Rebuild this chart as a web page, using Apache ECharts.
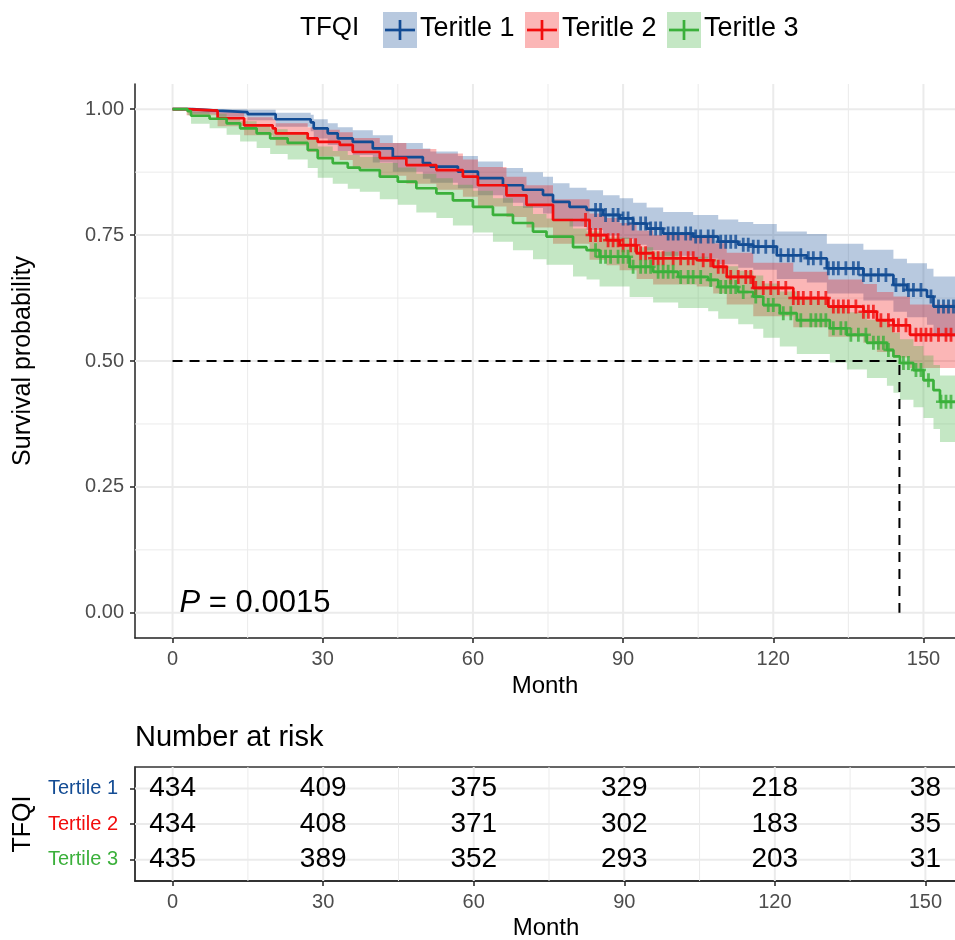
<!DOCTYPE html>
<html>
<head>
<meta charset="utf-8">
<title>TFQI survival</title>
<script src="https://cdn.jsdelivr.net/npm/echarts@6/dist/echarts.min.js"></script>
<style>
  html, body { margin: 0; padding: 0; background: #fff; }
  #chart { width: 955px; height: 940px; }
</style>
</head>
<body>
<div id="chart"></div>
<script>
// ---- data ----
const groupNames = ['Teritle 1', 'Teritle 2', 'Teritle 3'];
const riskNames = ['Tertile 1', 'Tertile 2', 'Tertile 3'];

const t1Time  = [0, 4, 9, 15, 20.6, 27.6, 28.2, 31, 33, 36, 40, 44, 50, 51.5, 57, 61, 66, 70, 74, 76, 79.3, 82.7, 86, 89.3, 92, 94.7, 98, 104, 109, 113, 116, 120.7, 126.7, 130.7, 138, 144, 146.7, 150.7, 152, 156.3];
const t1Surv  = [1, 0.997, 0.994, 0.99, 0.98, 0.974, 0.962, 0.952, 0.942, 0.935, 0.922, 0.905, 0.893, 0.886, 0.876, 0.863, 0.849, 0.84, 0.83, 0.816, 0.806, 0.8, 0.79, 0.783, 0.773, 0.763, 0.753, 0.747, 0.737, 0.731, 0.727, 0.71, 0.704, 0.684, 0.671, 0.651, 0.641, 0.628, 0.608, 0.608];
const t1Upper = [1, 1, 1, 0.999, 0.993, 0.989, 0.98, 0.972, 0.964, 0.958, 0.948, 0.933, 0.922, 0.916, 0.907, 0.896, 0.883, 0.875, 0.866, 0.853, 0.844, 0.839, 0.829, 0.823, 0.814, 0.805, 0.796, 0.79, 0.781, 0.776, 0.772, 0.757, 0.752, 0.733, 0.721, 0.703, 0.694, 0.683, 0.668, 0.668];
const t1Lower = [1, 0.991, 0.985, 0.978, 0.965, 0.956, 0.942, 0.929, 0.917, 0.909, 0.894, 0.876, 0.862, 0.854, 0.843, 0.829, 0.814, 0.804, 0.793, 0.778, 0.767, 0.76, 0.749, 0.742, 0.731, 0.72, 0.709, 0.703, 0.692, 0.685, 0.681, 0.663, 0.656, 0.634, 0.62, 0.598, 0.587, 0.572, 0.548, 0.548];
const t1Censor = [84.5, 85.5, 86.5, 88, 89, 90, 91, 92, 93.5, 94.5, 95.5, 96.5, 97.5, 99, 100, 101, 102.5, 103.5, 104.5, 105.5, 107, 108, 109.5, 110.5, 111.5, 112.5, 114, 115, 116, 117, 118.5, 120, 121.5, 123, 124, 125.5, 127, 128, 129.5, 131, 132, 133, 134.5, 136, 137, 138, 139.5, 141, 142.5, 144.5, 146, 147, 148, 149.5, 151.5, 153, 154, 155, 156];

const t2Time  = [0, 2.8, 9, 14.3, 20, 20.6, 27, 29, 33.4, 36, 41.4, 46.7, 52.7, 58, 61, 66.7, 70.7, 76, 83.3, 86.7, 89.3, 92.7, 96, 104.7, 108, 110.7, 116, 124, 131, 138, 140.7, 144, 147.3, 156.3];
const t2Surv  = [1, 0.997, 0.982, 0.968, 0.962, 0.952, 0.942, 0.935, 0.929, 0.915, 0.903, 0.889, 0.879, 0.866, 0.849, 0.829, 0.81, 0.78, 0.75, 0.74, 0.73, 0.714, 0.704, 0.7, 0.687, 0.667, 0.645, 0.625, 0.608, 0.598, 0.581, 0.571, 0.552, 0.552];
const t2Upper = [1, 1, 0.994, 0.984, 0.98, 0.972, 0.964, 0.959, 0.954, 0.943, 0.933, 0.921, 0.912, 0.9, 0.885, 0.866, 0.849, 0.821, 0.793, 0.784, 0.774, 0.759, 0.75, 0.746, 0.734, 0.715, 0.695, 0.677, 0.662, 0.653, 0.637, 0.628, 0.612, 0.612];
const t2Lower = [1, 0.988, 0.966, 0.948, 0.94, 0.928, 0.915, 0.906, 0.899, 0.882, 0.868, 0.852, 0.84, 0.826, 0.807, 0.786, 0.765, 0.733, 0.701, 0.69, 0.68, 0.663, 0.652, 0.648, 0.634, 0.612, 0.589, 0.567, 0.548, 0.536, 0.518, 0.507, 0.486, 0.486];
const t2Censor = [82.5, 83.5, 84.5, 85.5, 87, 88, 89, 90, 91.5, 92.5, 93.5, 94.5, 96, 97, 98, 100, 101.5, 103, 104, 106, 107.5, 109, 110, 111.5, 113, 114.5, 115.5, 116.5, 118, 119.5, 121, 122.5, 124, 125, 126, 127.5, 129, 130.5, 132, 133, 134, 135, 136.5, 138, 139, 140, 141.5, 143, 144, 145, 146.5, 148.5, 149.5, 150.5, 151.5, 153, 154.5, 155.5];

const t3Time  = [0, 3, 3.7, 7.4, 10.8, 13.5, 16.8, 19.5, 23, 27, 29, 32, 35, 37.4, 41.4, 45, 48.7, 52.7, 56, 60, 64, 68, 72, 74.7, 80, 82.7, 85.3, 91.3, 96, 101, 107, 109, 113, 116, 118, 121.3, 124.7, 131.3, 134.7, 138.7, 142.7, 144, 145.3, 148, 150, 152, 153.3, 156.3];
const t3Surv  = [1, 0.996, 0.987, 0.981, 0.972, 0.962, 0.952, 0.942, 0.933, 0.919, 0.903, 0.893, 0.884, 0.879, 0.866, 0.856, 0.843, 0.833, 0.819, 0.806, 0.79, 0.774, 0.757, 0.747, 0.726, 0.72, 0.707, 0.687, 0.677, 0.667, 0.661, 0.647, 0.637, 0.628, 0.611, 0.595, 0.581, 0.565, 0.552, 0.536, 0.522, 0.509, 0.496, 0.482, 0.462, 0.442, 0.419, 0.419];
const t3Upper = [1, 1, 0.995, 0.991, 0.984, 0.976, 0.968, 0.96, 0.952, 0.94, 0.926, 0.917, 0.909, 0.905, 0.893, 0.884, 0.872, 0.863, 0.85, 0.838, 0.823, 0.808, 0.792, 0.783, 0.763, 0.757, 0.745, 0.726, 0.717, 0.707, 0.702, 0.688, 0.679, 0.67, 0.654, 0.638, 0.625, 0.61, 0.597, 0.582, 0.568, 0.556, 0.543, 0.53, 0.511, 0.492, 0.471, 0.471];
const t3Lower = [1, 0.988, 0.971, 0.962, 0.949, 0.936, 0.923, 0.911, 0.9, 0.883, 0.864, 0.852, 0.842, 0.836, 0.821, 0.81, 0.795, 0.784, 0.769, 0.755, 0.737, 0.72, 0.702, 0.691, 0.668, 0.662, 0.648, 0.627, 0.616, 0.605, 0.599, 0.584, 0.573, 0.564, 0.546, 0.529, 0.514, 0.497, 0.483, 0.466, 0.451, 0.437, 0.423, 0.408, 0.387, 0.365, 0.339, 0.339];
const t3Censor = [84.5, 85.5, 86.5, 87.5, 89, 90, 91, 92, 93.5, 94.5, 95.5, 97, 98, 99, 100, 101.5, 103, 104, 105.5, 107.5, 109.5, 110.5, 111.5, 112.5, 114, 116.5, 119, 120, 122, 123.5, 125.5, 127.5, 128.5, 129.5, 130.5, 132, 133.5, 134.5, 135.5, 137, 138.5, 140, 141, 142, 143, 146, 147, 148.5, 149.5, 151, 153.5, 154.5, 155.5];

const medianTime = 145.2;
const medianSurv = 0.5;
const pValueText = '0.0015';

const riskTimes = [0, 30, 60, 90, 120, 150];
const risk1 = [434, 409, 375, 329, 218, 38];
const risk2 = [434, 408, 371, 302, 183, 35];
const risk3 = [435, 389, 352, 293, 203, 31];
const riskRows = [3, 2, 1]; // row position of Tertile 1..3 in the table

const xTicks = [0, 30, 60, 90, 120, 150];
const xMinor = [15, 45, 75, 105, 135];
const yTicks = [0, 0.25, 0.5, 0.75, 1];
const yMinor = [0.125, 0.375, 0.625, 0.875];

// ---- styling ----
const colors = ['#134C94', '#F20C0C', '#3BB03B'];
const fills = ['rgba(19,76,148,0.3)', 'rgba(242,12,12,0.3)', 'rgba(59,176,59,0.3)'];
const FONT = 'Liberation Sans, Arial, sans-serif';
const plusPath = 'path://M3.6,0L6.4,0L6.4,14L3.6,14Z M0,5.75L10,5.75L10,8.25L0,8.25Z';

const groups = [
  { time: t1Time, surv: t1Surv, upper: t1Upper, lower: t1Lower, censor: t1Censor },
  { time: t2Time, surv: t2Surv, upper: t2Upper, lower: t2Lower, censor: t2Censor },
  { time: t3Time, surv: t3Surv, upper: t3Upper, lower: t3Lower, censor: t3Censor }
];
const riskCounts = [risk1, risk2, risk3];

function stepAt(time, surv, x) {
  let v = surv[0];
  for (let i = 0; i < time.length; i++) {
    if (time[i] <= x) v = surv[i];
  }
  return v;
}

// light grid lines drawn under everything
function gridLines(gi, values, dir, width) {
  return {
    type: 'custom', xAxisIndex: gi, yAxisIndex: gi, z: 1, silent: true,
    data: values.map(v => dir === 'v' ? [v, 1] : [0, v]),
    renderItem: function (params, api) {
      const cs = params.coordSys;
      const p = api.coord([api.value(0), api.value(1)]);
      const shape = dir === 'v'
        ? { x1: p[0], y1: cs.y, x2: p[0], y2: cs.y + cs.height }
        : { x1: cs.x, y1: p[1], x2: cs.x + cs.width, y2: p[1] };
      return { type: 'line', shape: shape, style: { stroke: '#EBEBEB', lineWidth: width } };
    }
  };
}

function bandSeries(g, k) {
  return {
    type: 'custom', xAxisIndex: 0, yAxisIndex: 0, z: 2, silent: true,
    data: [[g.time[0], g.surv[0]]],
    renderItem: function (params, api) {
      const n = g.time.length;
      const pts = [];
      for (let i = 0; i < n; i++) {
        const tn = i < n - 1 ? g.time[i + 1] : g.time[i];
        pts.push(api.coord([g.time[i], g.upper[i]]));
        pts.push(api.coord([tn, g.upper[i]]));
      }
      for (let i = n - 1; i >= 0; i--) {
        const tn = i < n - 1 ? g.time[i + 1] : g.time[i];
        pts.push(api.coord([tn, g.lower[i]]));
        pts.push(api.coord([g.time[i], g.lower[i]]));
      }
      return { type: 'polygon', shape: { points: pts }, style: { fill: fills[k] } };
    }
  };
}

// text placed at data coordinates
function textSeries(gi, data, font, align) {
  return {
    type: 'custom', xAxisIndex: gi, yAxisIndex: gi, z: 6, silent: true,
    data: data,
    renderItem: function (params, api) {
      const p = api.coord([api.value(0), api.value(1)]);
      const item = data[params.dataIndex];
      return {
        type: 'text', x: p[0], y: p[1],
        style: { text: item[2], fill: '#000', font: font, align: align, verticalAlign: 'middle', rich: item[3] || undefined }
      };
    }
  };
}

const series = [
  gridLines(0, xMinor, 'v', 1),
  gridLines(0, yMinor, 'h', 1),
  gridLines(0, xTicks, 'v', 2),
  gridLines(0, yTicks, 'h', 2),
  gridLines(1, xMinor, 'v', 1),
  gridLines(1, xTicks, 'v', 2),
  gridLines(1, riskRows, 'h', 2)
];

groups.forEach((g, k) => series.push(bandSeries(g, k)));

groups.forEach((g, k) => {
  series.push({
    type: 'line', name: groupNames[k], step: 'end', z: 3, silent: true,
    xAxisIndex: 0, yAxisIndex: 0,
    data: g.time.map((t, i) => [t, g.surv[i]]),
    symbol: 'none', color: colors[k],
    lineStyle: { color: colors[k], width: 2.7 }
  });
});

groups.forEach((g, k) => {
  series.push({
    type: 'scatter', z: 4, silent: true, xAxisIndex: 0, yAxisIndex: 0,
    data: g.censor.map(c => [c, stepAt(g.time, g.surv, c)]),
    symbol: plusPath, symbolSize: [10, 14],
    itemStyle: { color: colors[k] }
  });
});

// median survival guide
series.push({
  type: 'line', z: 5, silent: true, xAxisIndex: 0, yAxisIndex: 0,
  data: [[0, medianSurv], [medianTime, medianSurv], [medianTime, 0]],
  symbol: 'none',
  lineStyle: { color: '#000', width: 2, type: [10, 7] }
});

// p value
series.push(textSeries(0, [[1.4, 0.018, '{i|P} = ' + pValueText, {
  i: { fontStyle: 'italic', fontSize: 31, fontFamily: FONT, fill: '#000' }
}]], '31px ' + FONT, 'left'));

// number at risk table
const riskData = [];
riskCounts.forEach((arr, k) => {
  arr.forEach((v, i) => riskData.push([riskTimes[i], riskRows[k], String(v)]));
});
series.push(textSeries(1, riskData, '28px ' + FONT, 'center'));

const tickLabel = { color: '#4D4D4D', fontSize: 20, fontFamily: FONT };
function xAxisFor(gi) {
  return {
    type: 'value', gridIndex: gi, min: -7.5, max: 156.3,
    axisLine: { show: true, onZero: false, lineStyle: { color: '#222', width: 1.5 } },
    axisTick: { show: true, customValues: xTicks, length: 5, lineStyle: { color: '#222', width: 1.5 } },
    axisLabel: Object.assign({ customValues: xTicks, margin: 11 }, tickLabel),
    splitLine: { show: false },
    name: 'Month', nameLocation: 'middle', nameGap: 35,
    nameTextStyle: { fontSize: 24, color: '#000', fontFamily: FONT }
  };
}

const rowRich = {};
riskNames.forEach((n, k) => { rowRich['r' + k] = { color: colors[k], fontSize: 20, fontFamily: FONT }; });

const option = {
  animation: false,
  backgroundColor: '#fff',
  textStyle: { fontFamily: FONT },
  grid: [
    { left: 135, top: 84, right: 0, bottom: 302, outerBoundsMode: 'none' },
    { left: 135, top: 767, right: -2, height: 114, outerBoundsMode: 'none',
      show: true, borderColor: '#333', borderWidth: 1.5, backgroundColor: 'transparent' }
  ],
  xAxis: [xAxisFor(0), xAxisFor(1)],
  yAxis: [
    {
      type: 'value', gridIndex: 0, min: -0.05, max: 1.05,
      axisLine: { show: true, onZero: false, lineStyle: { color: '#222', width: 1.5 } },
      axisTick: { show: true, customValues: yTicks, length: 5, lineStyle: { color: '#222', width: 1.5 } },
      axisLabel: Object.assign({ customValues: yTicks, margin: 11, formatter: v => v.toFixed(2) }, tickLabel),
      splitLine: { show: false },
      name: 'Survival probability', nameLocation: 'middle', nameGap: 99,
      nameTextStyle: { fontSize: 25, color: '#000', fontFamily: FONT }
    },
    {
      type: 'value', gridIndex: 1, min: 0.4, max: 3.6,
      axisLine: { show: true, onZero: false, lineStyle: { color: '#333', width: 1.5 } },
      axisTick: { show: true, customValues: riskRows, length: 5, lineStyle: { color: '#222', width: 1.5 } },
      axisLabel: {
        customValues: riskRows, margin: 17,
        formatter: v => { const k = riskRows.indexOf(v); return k < 0 ? '' : '{r' + k + '|' + riskNames[k] + '}'; },
        rich: rowRich
      },
      splitLine: { show: false },
      name: 'TFQI', nameLocation: 'middle', nameGap: 99,
      nameTextStyle: { fontSize: 25, color: '#000', fontFamily: FONT }
    }
  ],
  graphic: [],
  series: series
};

// legend drawn as graphic: filled key + plus mark + label
const keyLeft = [383, 525, 667];
option.graphic.push({
  type: 'text', left: 300, top: 15,
  style: { text: 'TFQI', fill: '#000', font: '26px ' + FONT }
});
groupNames.forEach((n, k) => {
  const x = keyLeft[k];
  option.graphic.push({ type: 'rect', shape: { x: x, y: 12, width: 34, height: 36 }, style: { fill: fills[k] } });
  option.graphic.push({ type: 'line', shape: { x1: x + 2, y1: 30, x2: x + 32, y2: 30 }, style: { stroke: colors[k], lineWidth: 2.7 } });
  option.graphic.push({ type: 'line', shape: { x1: x + 17, y1: 20, x2: x + 17, y2: 40 }, style: { stroke: colors[k], lineWidth: 2.7 } });
  option.graphic.push({
    type: 'text', left: x + 37, top: 15,
    style: { text: n, fill: '#000', font: '27px ' + FONT }
  });
});
option.graphic.push({
  type: 'text', left: 135, top: 723,
  style: { text: 'Number at risk', fill: '#000', font: '29px ' + FONT }
});

const chart = echarts.init(document.getElementById('chart'));
chart.setOption(option);
</script>
</body>
</html>
